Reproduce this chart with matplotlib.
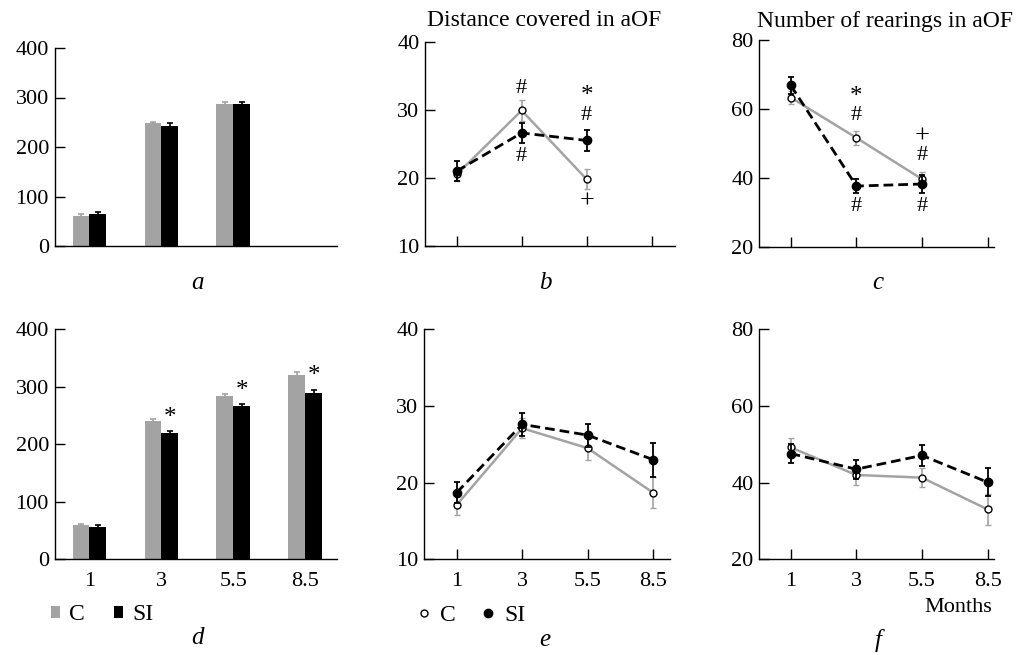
import matplotlib
matplotlib.use("Agg")
import matplotlib.pyplot as plt
from matplotlib.lines import Line2D
from matplotlib.patches import Patch
import numpy as np

plt.rcParams['font.family'] = ['Liberation Serif', 'DejaVu Serif']
plt.rcParams['font.size'] = 16

months = ["1", "3", "5.5", "8.5"]

# Panel a (bars)
a_C = [61, 248, 287]
a_C_err = [4, 2, 4]
a_SI = [65, 243, 287]
a_SI_err = [4, 5, 4]

# Panel d (bars)
d_C = [59, 240, 284, 320]
d_C_err = [3, 4, 4, 6]
d_SI = [57, 219, 266, 290]
d_SI_err = [3, 4, 4, 5]

# Panel b: Distance covered in aOF
b_C = [20.5, 29.9, 19.8]
b_C_err = [1.0, 1.5, 1.5]
b_SI = [21.0, 26.6, 25.5]
b_SI_err = [1.5, 1.5, 1.5]

# Panel c: Number of rearings in aOF
c_C = [63.3, 51.6, 39.6]
c_C_err = [2.0, 2.0, 2.0]
c_SI = [66.8, 37.6, 38.2]
c_SI_err = [2.5, 2.0, 2.5]

# Panel e
e_C = [17.1, 27.1, 24.5, 18.7]
e_C_err = [1.3, 1.3, 1.5, 2.0]
e_SI = [18.7, 27.6, 26.2, 23.0]
e_SI_err = [1.4, 1.5, 1.5, 2.2]

# Panel f
f_C = [49.2, 42.0, 41.3, 33.0]
f_C_err = [2.5, 2.5, 2.5, 4.0]
f_SI = [47.6, 43.5, 47.1, 40.1]
f_SI_err = [2.5, 2.5, 2.7, 3.6]

GRAY = "#a3a3a3"
TICK_FS = 16
W, H = 1019, 655
fig = plt.figure(figsize=(W / 100, H / 100), dpi=100)


def add_ax(left, right, top, bottom):
    return fig.add_axes([left / W, 1 - bottom / H, (right - left) / W, (bottom - top) / H])


def style(ax):
    for s in ["top", "right"]:
        ax.spines[s].set_visible(False)
    for s in ["left", "bottom"]:
        ax.spines[s].set_linewidth(1.0)
    ax.tick_params(axis="y", direction="in", length=7, width=1, labelsize=TICK_FS, pad=4)
    ax.tick_params(axis="x", direction="in", length=7, width=1, labelsize=TICK_FS, pad=9)


def bars(ax, C, Ce, SI, SIe, n_show_labels):
    x = np.arange(len(C))
    w = 0.235
    ax.bar(x - w / 2, C, w, color=GRAY, yerr=Ce, ecolor=GRAY,
           error_kw=dict(capsize=2, elinewidth=1.2, capthick=1.2), label="C")
    ax.bar(x + w / 2, SI, w, color="black", yerr=SIe, ecolor="black",
           error_kw=dict(capsize=2, elinewidth=1.2, capthick=1.2), label="SI")
    ax.set_ylim(0, 400)
    ax.set_yticks([0, 100, 200, 300, 400])
    ax.set_xlim(-0.486, 3.44)
    style(ax)
    ax.tick_params(axis="x", length=0)
    if n_show_labels:
        ax.set_xticks(range(4))
        ax.set_xticklabels(months)
    else:
        ax.set_xticks([])


def lines(ax, C, Ce, SI, SIe, ylim, yticks, xlim, labels):
    x = np.arange(len(C))
    ax.errorbar(x, C, yerr=Ce, color=GRAY, lw=1.8, ecolor=GRAY, elinewidth=1.2,
                capsize=2, capthick=1.2, marker="o", ms=5, mfc="white", mec="black",
                mew=1.0, zorder=3, label="C")
    ax.errorbar(x, SI, yerr=SIe, color="black", lw=2.0, ls=(0, (3.5, 1.8)), ecolor="black",
                elinewidth=1.3, capsize=2, capthick=1.3, marker="o", ms=6, mfc="black",
                mec="black", zorder=4, label="SI")
    ax.set_ylim(*ylim)
    ax.set_yticks(yticks)
    ax.set_xlim(*xlim)
    style(ax)
    ax.set_xticks(range(4))
    if labels:
        ax.set_xticklabels(months)
    else:
        ax.set_xticklabels([""] * 4)


ax_a = add_ax(54.5, 337, 48, 246)
bars(ax_a, a_C, a_C_err, a_SI, a_SI_err, False)

ax_d = add_ax(54.5, 337, 329.3, 559.3)
bars(ax_d, d_C, d_C_err, d_SI, d_SI_err, True)
for i in range(1, 4):
    ax_d.text(i + 0.235 / 2, d_SI[i] + d_SI_err[i] + 4, "*", ha="center", va="bottom", fontsize=18)

ANN = 16
ax_b = add_ax(425, 675, 41.7, 246)
lines(ax_b, b_C, b_C_err, b_SI, b_SI_err, (10, 40), [10, 20, 30, 40], (-0.488, 3.36), False)
fig.text(544 / W, 1 - 21 / H, "Distance covered in aOF", ha="center", va="center", fontsize=17)
ax_b.text(1, 33.1, "#", ha="center", va="center", fontsize=ANN)
ax_b.text(1, 23.1, "#", ha="center", va="center", fontsize=ANN)
ax_b.text(2, 32.0, "*", ha="center", va="center", fontsize=ANN + 2)
ax_b.text(2, 29.2, "#", ha="center", va="center", fontsize=ANN)
ax_b.text(2, 16.5, "+", ha="center", va="center", fontsize=ANN + 3)

ax_c = add_ax(759.3, 994.3, 40, 246.7)
lines(ax_c, c_C, c_C_err, c_SI, c_SI_err, (20, 80), [20, 40, 60, 80], (-0.48, 3.1), False)
fig.text(885 / W, 1 - 21 / H, "Number of rearings in aOF", ha="center", va="center", fontsize=17)
ax_c.text(1, 63.5, "*", ha="center", va="center", fontsize=ANN + 2)
ax_c.text(1, 58.0, "#", ha="center", va="center", fontsize=ANN)
ax_c.text(1, 31.6, "#", ha="center", va="center", fontsize=ANN)
ax_c.text(2, 52.0, "+", ha="center", va="center", fontsize=ANN + 3)
ax_c.text(2, 46.6, "#", ha="center", va="center", fontsize=ANN)
ax_c.text(2, 31.6, "#", ha="center", va="center", fontsize=ANN)

ax_e = add_ax(424, 670, 329.3, 559.3)
lines(ax_e, e_C, e_C_err, e_SI, e_SI_err, (10, 40), [10, 20, 30, 40], (-0.5, 3.26), True)

ax_f = add_ax(759, 994.3, 329.3, 559.3)
lines(ax_f, f_C, f_C_err, f_SI, f_SI_err, (20, 80), [20, 40, 60, 80], (-0.48, 3.1), True)
fig.text(958 / W, 1 - 607 / H, "Months", ha="center", va="center", fontsize=16)

# Legends
bar_handles = [Patch(facecolor=GRAY, edgecolor="none"), Patch(facecolor="black", edgecolor="none")]
leg_d = fig.legend(bar_handles, ["C", "SI"], loc="center left",
                   bbox_to_anchor=(51 / W, 1 - 615 / H), ncol=2, frameon=False,
                   handlelength=0.36, handleheight=0.36, handletextpad=0.4,
                   columnspacing=1.25, fontsize=17, borderpad=0, borderaxespad=0)
line_handles = [Line2D([], [], ls="none", marker="o", ms=5, mfc="white", mec="black", mew=1.0),
                Line2D([], [], ls="none", marker="o", ms=6, mfc="black", mec="black")]
leg_e = fig.legend(line_handles, ["C", "SI"], loc="center left",
                   bbox_to_anchor=(419 / W, 1 - 615 / H), ncol=2, frameon=False,
                   handlelength=0.45, handletextpad=0.45, columnspacing=1.15,
                   fontsize=17, borderpad=0, borderaxespad=0)

# Panel letters
for lab, (px, py) in {"a": (197, 283), "b": (545, 283), "c": (878, 283),
                      "d": (197, 638), "e": (545, 640), "f": (878, 640)}.items():
    fig.text(px / W, 1 - py / H, lab, ha="center", va="center", fontsize=18, style="italic")

fig.savefig("out.png", dpi=100)
